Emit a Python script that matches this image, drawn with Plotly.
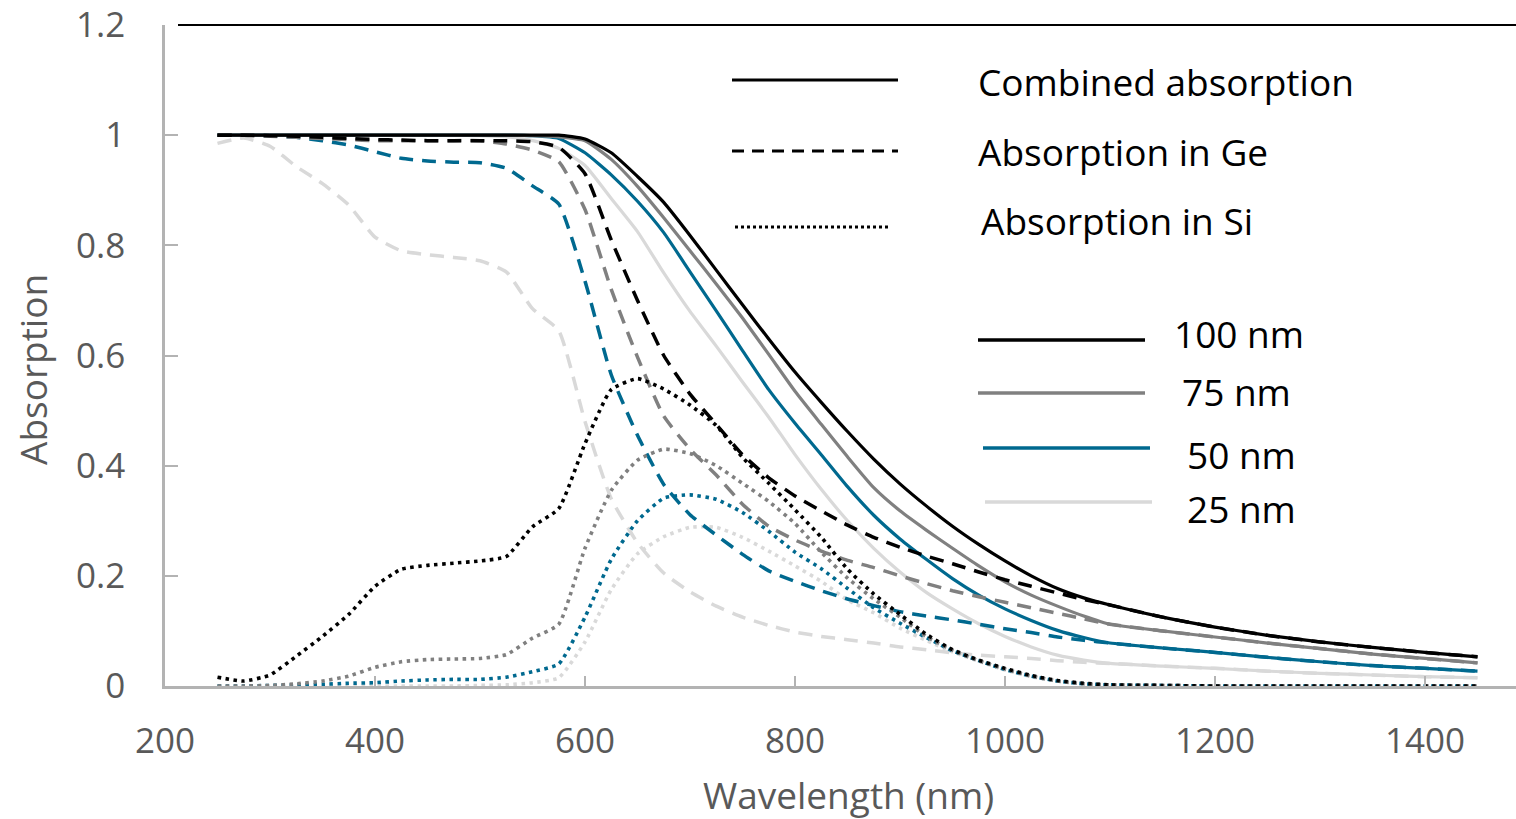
import plotly.graph_objects as go

# ---------------- data ----------------
wavelength = [250, 275, 300, 325, 350, 375, 400, 425, 450, 475, 500, 525, 550, 575,
              600, 625, 650, 675, 700, 725, 750, 775, 800, 825, 850, 875, 900, 925,
              950, 975, 1000, 1025, 1050, 1075, 1100, 1150, 1200, 1250, 1300, 1350,
              1400, 1450]

combined_100 = [1.0, 1.0, 1.0, 1.0, 1.0, 1.0, 1.0, 1.0, 1.0, 1.0, 1.0, 1.0, 1.0, 1.0,
                0.993, 0.968, 0.925, 0.878, 0.818, 0.755, 0.692, 0.63, 0.57, 0.515, 0.462, 0.412, 0.367, 0.327,
                0.29, 0.257, 0.227, 0.2, 0.177, 0.16, 0.147, 0.125, 0.107, 0.092, 0.08, 0.07,
                0.061, 0.053]
combined_75 = [1.0, 1.0, 1.0, 1.0, 1.0, 1.0, 1.0, 1.0, 1.0, 1.0, 1.0, 1.0, 0.999, 0.997,
               0.99, 0.956, 0.907, 0.85, 0.79, 0.73, 0.668, 0.602, 0.535, 0.475, 0.416, 0.36, 0.318, 0.283,
               0.25, 0.218, 0.189, 0.165, 0.145, 0.127, 0.112, 0.10, 0.089, 0.078, 0.068, 0.058,
               0.05, 0.042]
combined_50 = [1.0, 1.0, 1.0, 1.0, 1.0, 1.0, 1.0, 1.0, 1.0, 1.0, 1.0, 1.0, 0.999, 0.994,
               0.968, 0.928, 0.88, 0.823, 0.752, 0.681, 0.609, 0.538, 0.477, 0.42, 0.362, 0.31, 0.267, 0.23,
               0.195, 0.165, 0.14, 0.119, 0.101, 0.088, 0.078, 0.069, 0.061, 0.052, 0.044, 0.037,
               0.032, 0.027]
combined_25 = [1.0, 1.0, 1.0, 1.0, 1.0, 1.0, 1.0, 1.0, 1.0, 1.0, 0.999, 0.997, 0.99, 0.976,
               0.945, 0.885, 0.825, 0.75, 0.68, 0.617, 0.552, 0.488, 0.42, 0.357, 0.30, 0.25, 0.207, 0.17,
               0.14, 0.113, 0.09, 0.071, 0.056, 0.047, 0.041, 0.036, 0.032, 0.027, 0.023, 0.02,
               0.017, 0.015]

ge_100 = [1.0, 1.0, 0.999, 0.998, 0.996, 0.994, 0.992, 0.991, 0.99, 0.99, 0.99, 0.99, 0.988, 0.978,
          0.93, 0.81, 0.70, 0.60, 0.53, 0.475, 0.42, 0.378, 0.345, 0.318, 0.292, 0.27, 0.252, 0.236,
          0.222, 0.207, 0.193, 0.181, 0.169, 0.157, 0.147, 0.125, 0.107, 0.092, 0.08, 0.07,
          0.061, 0.053]
ge_75 = [1.0, 1.0, 0.998, 0.996, 0.994, 0.992, 0.99, 0.99, 0.99, 0.99, 0.99, 0.984, 0.973, 0.952,
         0.865, 0.72, 0.597, 0.49, 0.43, 0.383, 0.33, 0.29, 0.265, 0.245, 0.228, 0.215, 0.20, 0.186,
         0.173, 0.162, 0.152, 0.142, 0.132, 0.122, 0.112, 0.10, 0.089, 0.078, 0.068, 0.058,
         0.05, 0.042]
ge_50 = [1.0, 1.0, 0.999, 0.996, 0.99, 0.982, 0.97, 0.958, 0.953, 0.951, 0.95, 0.94, 0.908, 0.875,
         0.735, 0.565, 0.455, 0.366, 0.311, 0.274, 0.239, 0.209, 0.19, 0.173, 0.158, 0.146, 0.135, 0.127,
         0.12, 0.112, 0.104, 0.097, 0.089, 0.083, 0.078, 0.069, 0.061, 0.052, 0.044, 0.037,
         0.032, 0.027]
ge_25 = [0.985, 0.995, 0.98, 0.943, 0.912, 0.873, 0.815, 0.79, 0.783, 0.778, 0.772, 0.752, 0.685, 0.645,
         0.48, 0.34, 0.26, 0.205, 0.171, 0.145, 0.125, 0.11, 0.098, 0.09, 0.084, 0.078, 0.071, 0.066,
         0.06, 0.056, 0.053, 0.05, 0.046, 0.043, 0.041, 0.036, 0.032, 0.027, 0.023, 0.02,
         0.017, 0.015]

si_100 = [0.016, 0.009, 0.02, 0.054, 0.09, 0.13, 0.181, 0.212, 0.219, 0.223, 0.227, 0.235, 0.289, 0.322,
          0.44, 0.538, 0.558, 0.539, 0.51, 0.473, 0.415, 0.368, 0.32, 0.27, 0.212, 0.167, 0.13, 0.094,
          0.066, 0.047, 0.032, 0.019, 0.01, 0.005, 0.002, 0.001, 0.0, 0.0, 0.0, 0.0,
          0.0, 0.0]
si_75 = [0.0, 0.0, 0.001, 0.004, 0.009, 0.018, 0.034, 0.044, 0.048, 0.049, 0.05, 0.057, 0.087, 0.112,
         0.25, 0.355, 0.41, 0.43, 0.422, 0.40, 0.368, 0.335, 0.295, 0.243, 0.196, 0.158, 0.125, 0.09,
         0.065, 0.046, 0.031, 0.018, 0.009, 0.004, 0.002, 0.001, 0.0, 0.0, 0.0, 0.0,
         0.0, 0.0]
si_50 = [0.0, 0.0, 0.001, 0.002, 0.003, 0.005, 0.006, 0.009, 0.011, 0.012, 0.012, 0.016, 0.026, 0.04,
         0.125, 0.23, 0.30, 0.341, 0.347, 0.339, 0.315, 0.281, 0.243, 0.213, 0.177, 0.142, 0.114, 0.088,
         0.064, 0.046, 0.03, 0.018, 0.009, 0.004, 0.002, 0.001, 0.0, 0.0, 0.0, 0.0,
         0.0, 0.0]
si_25 = [0.0, 0.0, 0.0, 0.0, 0.0, 0.0, 0.0, 0.0, 0.0, 0.0, 0.001, 0.002, 0.006, 0.015,
         0.08, 0.175, 0.24, 0.271, 0.288, 0.288, 0.27, 0.245, 0.218, 0.19, 0.156, 0.133, 0.105, 0.083,
         0.062, 0.045, 0.029, 0.017, 0.009, 0.004, 0.002, 0.001, 0.0, 0.0, 0.0, 0.0,
         0.0, 0.0]

thickness_labels = ["100 nm", "75 nm", "50 nm", "25 nm"]
type_labels = ["Combined absorption", "Absorption in Ge", "Absorption in Si"]
x_ticks = [200, 400, 600, 800, 1000, 1200, 1400]
y_ticks = [0, 0.2, 0.4, 0.6, 0.8, 1, 1.2]

# ---------------- styles ----------------
colors = {"100 nm": "#000000", "75 nm": "#808080", "50 nm": "#00698f", "25 nm": "#d9d9d9"}
series = {
    "100 nm": (combined_100, ge_100, si_100),
    "75 nm": (combined_75, ge_75, si_75),
    "50 nm": (combined_50, ge_50, si_50),
    "25 nm": (combined_25, ge_25, si_25),
}
styles = [("solid", 3.2), ("14px,9px", 3.5), ("3.5px,4.5px", 3.6)]

fig = go.Figure()
for lab in ["25 nm", "50 nm", "75 nm", "100 nm"]:
    for ys, (dash, w), tname in zip(series[lab], styles, type_labels):
        fig.add_trace(go.Scatter(
            x=wavelength, y=ys, mode="lines", name=f"{tname} {lab}",
            line=dict(color=colors[lab], width=w, dash=dash, shape="spline", smoothing=0.5),
            showlegend=False, hoverinfo="skip"))

# ---------------- layout ----------------
L, R, T, B = 165, 1516, 25, 686
W, H = 1516, 819


def px(x):
    return (x - L) / (R - L)


def py(y):
    return (B - y) / (B - T)


axis_gray = "#b3b3b3"
tick_font = dict(family="Open Sans", size=35, color="#595959")

fig.update_layout(
    width=W, height=H,
    margin=dict(l=L, r=W - R, t=T, b=H - B),
    paper_bgcolor="white", plot_bgcolor="white",
    xaxis=dict(range=[200, 200 + (R - L) / 1.05], tickvals=x_ticks, ticks="inside",
               ticklen=10, tickwidth=2, tickcolor=axis_gray, showline=True, linecolor=axis_gray,
               linewidth=2.5, showgrid=False, zeroline=False, tickfont=tick_font,
               ticklabelstandoff=22),
    yaxis=dict(range=[0, 1.2], tickvals=y_ticks, ticktext=["0", "0.2", "0.4", "0.6", "0.8", "1", "1.2"],
               ticks="inside", ticklen=13, tickwidth=2, tickcolor=axis_gray, showline=True,
               linecolor=axis_gray, linewidth=2.5, showgrid=False, zeroline=False,
               tickfont=tick_font, ticklabelstandoff=30),
)

shapes = [dict(type="line", xref="paper", yref="paper", x0=px(178), x1=1, y0=1, y1=1,
               line=dict(color="black", width=2))]
annotations = []

# style legend (black samples)
type_rows = [(732, 898, 80, 82, 976), (732, 898, 151, 151, 976), (735, 890, 227, 220, 979)]
type_dash = ["solid", "12px,8px", "3px,3px"]
for (x0, x1, yl, yt, xt), dash, txt in zip(type_rows, type_dash, type_labels):
    shapes.append(dict(type="line", xref="paper", yref="paper", x0=px(x0), x1=px(x1),
                       y0=py(yl), y1=py(yl), line=dict(color="black", width=3, dash=dash)))
    annotations.append(dict(xref="paper", yref="paper", x=px(xt), y=py(yt), text=txt,
                            showarrow=False, xanchor="left", yanchor="middle",
                            font=dict(family="Open Sans", size=37, color="black")))

# thickness legend (coloured samples)
thick_rows = [(978, 1145, 340, 333, 1172), (978, 1145, 393, 391, 1180),
              (983, 1150, 448, 454, 1185), (985, 1152, 502, 508, 1185)]
for (x0, x1, yl, yt, xt), lab in zip(thick_rows, thickness_labels):
    shapes.append(dict(type="line", xref="paper", yref="paper", x0=px(x0), x1=px(x1),
                       y0=py(yl), y1=py(yl), line=dict(color=colors[lab], width=3.5)))
    annotations.append(dict(xref="paper", yref="paper", x=px(xt), y=py(yt), text=lab,
                            showarrow=False, xanchor="left", yanchor="middle",
                            font=dict(family="Open Sans", size=37, color="black")))

# axis titles
annotations.append(dict(xref="paper", yref="paper", x=px(848), y=py(794), text="Wavelength (nm)",
                        showarrow=False, xanchor="center", yanchor="middle",
                        font=dict(family="Open Sans", size=37, color="#595959")))
annotations.append(dict(xref="paper", yref="paper", x=px(32), y=py(370), text="Absorption",
                        showarrow=False, xanchor="center", yanchor="middle", textangle=-90,
                        font=dict(family="Open Sans", size=37, color="#595959")))

fig.update_layout(shapes=shapes, annotations=annotations)

fig.write_html("out.html", config={"displayModeBar": False},
               post_script="document.body.style.margin='0';document.body.style.overflow='hidden';")
